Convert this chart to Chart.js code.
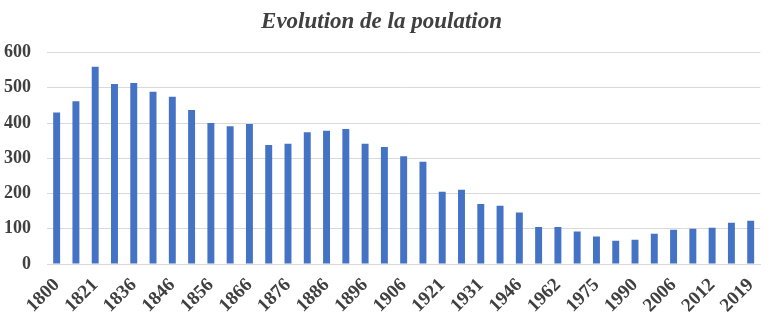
<!DOCTYPE html>
<html lang="fr">
  <head>
    <meta charset="UTF-8" />
    <title>Evolution de la poulation</title>
    <script src="https://cdn.jsdelivr.net/npm/chart.js"></script>
    <style>
      body {
        margin: 0;
        background: #ffffff;
      }
      .chart-box {
        width: 777px;
        height: 322px;
      }
    </style>
  </head>
  <body>
    <div class="chart-box"><canvas id="chart"></canvas></div>

    <script>
      // Années des recensements (une sur deux est affichée sous l'axe)
      const annees = [
        '1800', '1806', '1821', '1831', '1836', '1841', '1846', '1851', '1856', '1861',
        '1866', '1872', '1876', '1881', '1886', '1891', '1896', '1901', '1906', '1911',
        '1921', '1926', '1931', '1936', '1946', '1954', '1962', '1968', '1975', '1982',
        '1990', '1999', '2006', '2009', '2012', '2016', '2019',
      ]
      // Nombre d'habitants
      const habitants = [
        430, 462, 560, 511, 514, 489, 475, 437, 400, 391,
        397, 338, 341, 374, 378, 383, 341, 332, 306, 290,
        205, 211, 170, 165, 146, 105, 105, 92, 78, 66,
        69, 86, 97, 100, 103, 117, 123,
      ]
      const graduations = [0, 100, 200, 300, 400, 500, 600]

      const texte = '#404040'
      const grille = '#d9d9d9'

      new Chart(document.getElementById('chart'), {
        type: 'bar',
        data: {
          labels: annees,
          datasets: [
            {
              label: 'Population',
              data: habitants,
              backgroundColor: '#4472c4',
              barPercentage: 0.36,
              categoryPercentage: 1,
            },
          ],
        },
        options: {
          responsive: true,
          maintainAspectRatio: false,
          animation: false,
          layout: { padding: { left: 0, right: 14, top: 0, bottom: 0 } },
          plugins: {
            legend: { display: false },
            tooltip: { enabled: false },
            title: {
              display: true,
              text: 'Evolution de la poulation',
              color: texte,
              font: { family: 'Liberation Serif', size: 23, style: 'italic', weight: 'bold' },
              padding: { top: 8, bottom: 17 },
            },
          },
          scales: {
            x: {
              grid: { display: false, drawTicks: false },
              border: { color: grille },
              ticks: {
                autoSkip: false,
                minRotation: 45,
                maxRotation: 45,
                padding: 10,
                color: texte,
                font: { family: 'Liberation Serif', size: 19, weight: 'bold' },
                callback: (v, i) => (i % 2 === 0 ? annees[i] : ''),
              },
              afterFit: (scale) => {
                scale.height = 58
              },
            },
            y: {
              min: 0,
              max: 600,
              afterBuildTicks: (scale) => {
                scale.ticks = graduations.map((v) => ({ value: v }))
              },
              grid: { color: grille, drawTicks: false },
              border: { display: false },
              ticks: {
                padding: 16,
                color: texte,
                font: { family: 'Liberation Serif', size: 18, weight: 'bold' },
              },
              afterFit: (scale) => {
                scale.width = 47
              },
            },
          },
        },
      })
    </script>
  </body>
</html>
